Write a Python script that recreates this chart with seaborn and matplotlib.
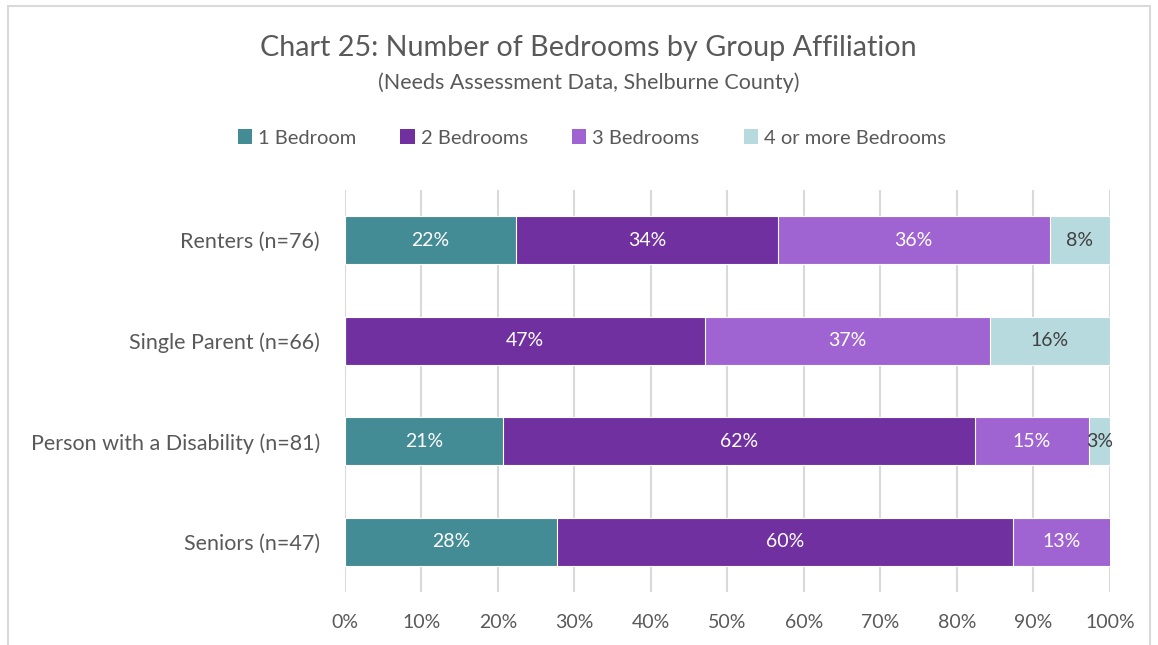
import numpy as np
import matplotlib.pyplot as plt
import seaborn as sns
from matplotlib.patches import Patch, Rectangle

# Chart data (percent of respondents)
groups = ["Renters (n=76)", "Single Parent (n=66)",
          "Person with a Disability (n=81)", "Seniors (n=47)"]
series = ["1 Bedroom", "2 Bedrooms", "3 Bedrooms", "4 or more Bedrooms"]
one_bed = [22.4, 0.0, 20.6, 27.7]
two_bed = [34.2, 47.0, 61.8, 59.6]
three_bed = [35.5, 37.3, 14.8, 12.8]
four_bed = [7.9, 15.7, 2.8, 0.0]
x_ticks = [0, 10, 20, 30, 40, 50, 60, 70, 80, 90, 100]

colors = ["#438C96", "#7030A0", "#A064D2", "#B7DADF"]
label_colors = ["white", "white", "white", "#404040"]
text_gray = "#595959"

sns.set_theme(style="white")
plt.rcParams["font.family"] = ["Lato", "DejaVu Sans"]

fig = plt.figure(figsize=(11.58, 6.45), dpi=100)
ax = fig.add_axes([0.2979, 0.0822, 0.6606, 0.6232])

values = np.array([one_bed, two_bed, three_bed, four_bed])
cum = values.cumsum(axis=0)

# stacked bars: draw the longest cumulative bar first, shorter ones on top
for i in range(len(series) - 1, -1, -1):
    sns.barplot(x=cum[i], y=groups, color=colors[i], orient="h", width=0.48,
                saturation=1, edgecolor="white", linewidth=0.8, ax=ax, zorder=2)

# segment labels
for i in range(len(series)):
    for j in range(len(groups)):
        v = values[i, j]
        if v <= 0:
            continue
        xc = cum[i, j] - v / 2
        ax.text(xc, j, f"{round(v):.0f}%", ha="center", va="center",
                color=label_colors[i], fontsize=14, zorder=5)

ax.set_xlim(0, 100)
ax.set_ylim(3.5, -0.5)
ax.set_xticks(x_ticks)
ax.set_xticklabels([f"{t}%" for t in x_ticks])
ax.xaxis.grid(True, color="#D9D9D9", linewidth=1.5, zorder=0)
ax.set_axisbelow(True)
ax.tick_params(axis="x", length=0, pad=16, labelsize=14, labelcolor=text_gray)
ax.tick_params(axis="y", length=0, pad=18, labelsize=15.5, labelcolor=text_gray)
ax.set_xlabel("")
ax.set_ylabel("")
for s in ax.spines.values():
    s.set_visible(False)

fig.text(0.508, 0.926, "Chart 25: Number of Bedrooms by Group Affiliation",
         ha="center", va="center", fontsize=20.7, color=text_gray)
fig.text(0.508, 0.872, "(Needs Assessment Data, Shelburne County)",
         ha="center", va="center", fontsize=15.5, color=text_gray)

handles = [Patch(facecolor=c, edgecolor="none") for c in colors]
fig.legend(handles, series, loc="center", bbox_to_anchor=(0.511, 0.786), ncol=4,
           frameon=False, fontsize=14.5, handlelength=0.7, handleheight=0.7,
           handletextpad=0.3, columnspacing=2.2, labelcolor=text_gray)

# outer chart border
fig.patches.append(Rectangle((8 / 1158, -0.05), 1142 / 1158, 1.05 - 6 / 645,
                             transform=fig.transFigure, fill=False,
                             edgecolor="#D9D9D9", linewidth=1.5))

fig.savefig("out.png", dpi=100)
